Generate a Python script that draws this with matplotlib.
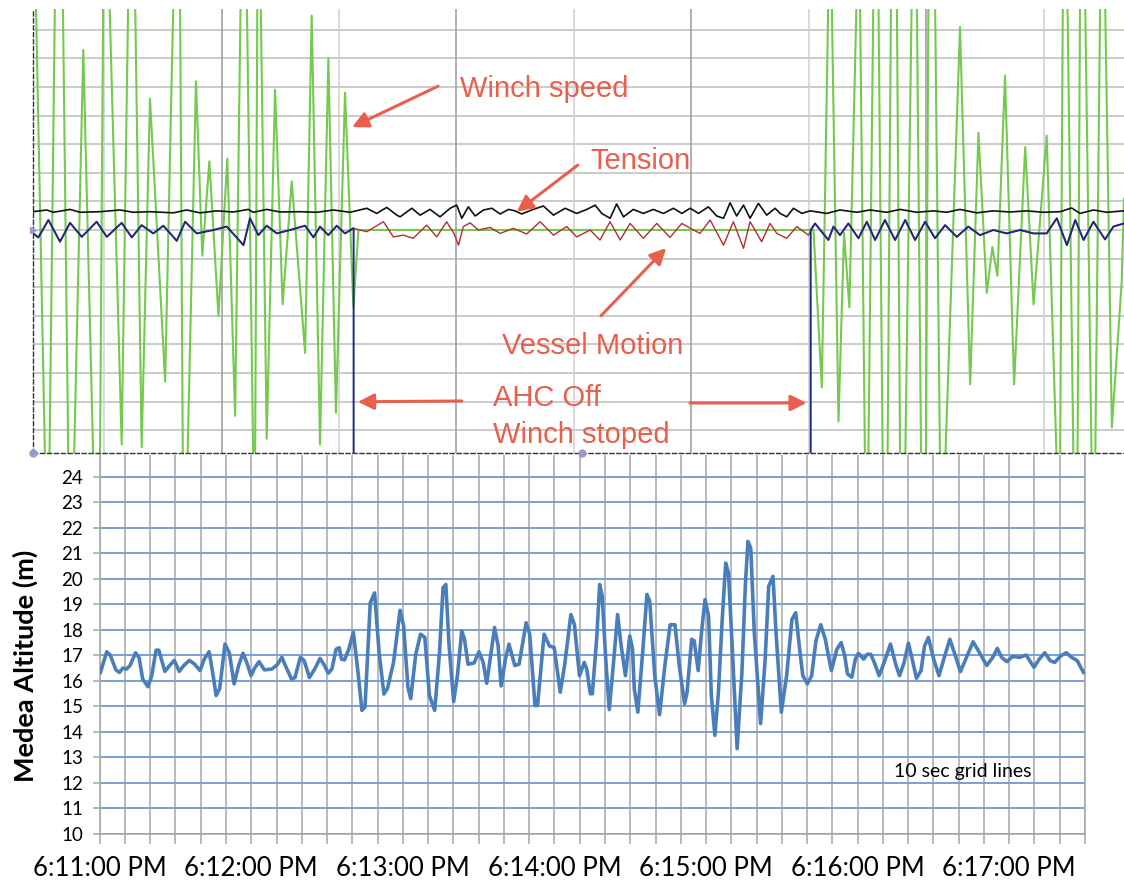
import numpy as np
import matplotlib.pyplot as plt

plt.rcParams['font.family'] = ['Lato', 'DejaVu Sans']

# ---- bottom chart: Medea altitude, seconds after 6:11:00 PM ----
alt_sec = [0.3, 2.8, 4.2, 6.4, 7.8, 9.2, 10.6, 12.0, 14.2, 15.6, 17.0, 19.1, 20.6, 22.3, 23.4,
           25.8, 27.7, 29.5, 31.5, 33.3, 35.5, 37.6, 39.7, 41.4, 43.3, 44.7, 46.1, 47.5, 49.6,
           51.3, 53.2, 55.0, 56.7, 58.2, 59.9, 61.3, 63.1, 65.2, 68.1, 70.2, 72.1, 73.8, 75.9,
           77.3, 79.4, 80.9, 83.0, 85.1, 87.2, 88.7, 90.5, 91.9, 93.6, 94.8, 95.7, 96.9, 98.6,
           100.4, 102.1, 103.8, 105.0, 107.1, 108.8, 110.6, 112.5, 113.9, 116.3, 118.9, 120.3,
           122.0, 123.1, 125.1, 127.0, 128.7, 130.5, 132.6, 134.5, 135.9, 137.0, 138.3, 140.1,
           141.6, 143.3, 144.4, 145.8, 148.2, 150.1, 151.8, 153.2, 154.9, 156.3, 157.7, 158.9,
           160.6, 162.0, 164.3, 166.0, 168.8, 170.2, 172.3, 173.3, 175.9, 178.0, 179.9, 182.3,
           184.0, 186.5, 187.9, 189.9, 191.8, 192.8, 194.2, 195.0, 196.7, 197.9, 198.9, 200.3,
           201.7, 203.5, 205.0, 206.4, 208.1, 209.8, 210.9, 211.6, 213.0, 214.9, 216.6, 217.7,
           219.7, 221.6, 223.7, 225.8, 227.7, 229.4, 231.5, 232.5, 234.3, 235.3, 236.9, 238.2,
           239.6, 241.0, 242.1, 243.5, 244.9, 246.4, 247.8, 248.9, 250.6, 252.3, 254.2, 255.6,
           256.6, 257.7, 259.1, 261.6, 263.4, 264.8, 266.5, 267.7, 269.8, 271.9, 274.0, 275.5,
           276.9, 278.3, 280.1, 281.8, 283.5, 285.4, 287.2, 289.6, 291.8, 293.5, 294.9, 296.0,
           297.7, 299.1, 300.3, 302.4, 303.8, 305.2, 306.6, 308.5, 310.5, 313.0, 315.2, 316.6,
           318.4, 320.1, 321.6, 323.3, 325.1, 326.5, 328.0, 330.1, 332.2, 334.1, 336.5, 338.3,
           340.7, 342.8, 345.7, 347.8, 351.1, 353.5, 355.3, 357.0, 359.1, 361.3, 364.1, 366.7,
           369.8, 371.9, 374.1, 376.2, 378.0, 380.4, 382.6, 384.7, 386.9, 389.4]
alt_m = [16.33, 17.14, 17.0, 16.43, 16.33, 16.5, 16.46, 16.6, 17.1, 16.9, 16.07, 15.77, 16.2, 17.2, 17.2,
         16.37, 16.6, 16.8, 16.37, 16.6, 16.8, 16.65, 16.4, 16.85, 17.14, 16.33, 15.42, 15.7, 17.44,
         17.1, 15.88, 16.6, 17.08, 16.72, 16.2, 16.5, 16.75, 16.43, 16.46, 16.62, 16.92, 16.53, 16.07,
         16.13, 16.92, 16.8, 16.13, 16.46, 16.88, 16.65, 16.3, 16.46, 17.24, 17.3, 16.85, 16.82, 17.24,
         17.9, 16.46, 14.84, 14.97, 19.06, 19.45, 17.1, 15.48, 15.7, 16.72, 18.77, 18.15,
         15.75, 15.3, 17.04, 17.83, 17.7, 15.42, 14.84, 17.1, 19.65, 19.78, 17.37, 15.19,
         16.2, 17.96, 17.63, 16.65, 16.7, 17.14, 16.72, 15.9, 17.1, 18.09, 17.37, 15.8,
         16.85, 17.44, 16.6, 16.65, 18.28, 17.83, 15.03, 15.03, 17.83, 17.37, 17.3, 15.55,
         16.6, 18.6, 18.2, 16.2, 16.72, 16.46, 15.49, 15.49, 17.63, 19.78, 19.32, 16.85,
         14.87, 16.85, 18.6, 17.37, 16.2, 17.76, 17.24, 15.68, 14.77, 17.1, 19.39, 19.13,
         16.2, 14.67, 16.6, 18.2, 18.2, 16.6, 15.1, 15.55, 17.63, 17.57, 16.4, 17.89,
         19.19, 18.54, 15.42, 13.86, 15.55, 18.41, 20.62, 20.23, 16.85, 13.34, 16.33, 19.84,
         21.47, 21.2, 17.89, 14.32, 16.85, 19.71, 20.1, 17.89, 14.77, 16.2, 18.41, 18.67,
         17.37, 16.2, 15.88, 16.2, 17.57, 18.2, 17.63, 16.4, 17.24, 17.5, 16.98, 16.27,
         16.14, 16.85, 17.08, 16.85, 17.04, 17.04, 16.72, 16.2, 16.72, 17.44, 16.6, 16.2,
         16.72, 17.48, 16.85, 16.1, 16.4, 17.37, 17.7, 16.85, 16.2, 16.85, 17.63, 17.1,
         16.36, 16.85, 17.53, 17.18, 16.6, 16.92, 17.27, 16.92, 16.75, 16.95, 16.92, 17.01,
         16.53, 16.85, 17.1, 16.79, 16.72, 16.98, 17.1, 16.92, 16.79, 16.33]
minute_labels = ['6:11:00 PM', '6:12:00 PM', '6:13:00 PM', '6:14:00 PM',
                 '6:15:00 PM', '6:16:00 PM', '6:17:00 PM']

# ---- top chart (winch log screenshot): same time base, values in grid divisions ----
winch_sec = [-26.4, -25.3, -21.6, -19.9, -17.7, -14.6, -12.4, -10.2, -6.5, -2.5, 0.1, 1.4, 3.8,
             8.7, 11.3, 14.0, 16.6, 19.9, 25.9, 29.2, 31.8, 32.9, 34.7, 38.1, 40.6, 43.4, 47.0,
             50.5, 53.6, 55.8, 58.2, 60.8, 61.5, 62.4, 63.7, 66.1, 69.4, 72.4, 76.0, 81.3, 83.9,
             87.2, 90.5, 93.5, 97.1, 100.4, 102.4,
             282.5, 285.8, 288.4, 289.7, 292.4, 294.6, 296.7, 299.6, 300.9, 302.9, 304.2, 306.2,
             308.2, 309.9, 311.8, 313.2, 315.5, 316.8, 318.8, 321.4, 323.4, 325.1, 327.0, 328.0,
             330.6, 332.6, 334.6, 340.5, 344.5, 347.8, 351.1, 353.3, 355.3, 358.3, 361.9, 366.3,
             369.6, 374.8, 378.8, 380.1, 381.2, 383.0, 385.4, 387.0, 388.0, 390.0, 392.6, 394.0,
             396.0, 397.9, 400.6, 404.5, 405.4]
winch_div = [8.2, 8.2, -8.2, -8.2, 8.2, 8.2, -8.2, -8.2, 6.3, -8.2, -8.2, 8.2, 8.2,
             -7.5, 8.2, 8.2, -7.6, 4.6, -5.3, 8.2, 8.2, -8.2, -8.2, 5.2, -0.9, 2.4, -3.0,
             2.5, -6.5, 8.2, 8.2, -8.2, -8.2, 8.2, 8.2, -7.3, 4.9, -2.6, 1.7, -4.3, 7.5,
             -7.5, 6.0, -6.4, 4.8, -2.7, 0.0,
             0.0, -5.5, 8.2, 8.2, -6.7, -0.1, -2.7, 8.2, 8.2, -8.2, -8.2, 8.2,
             8.2, -8.2, -8.2, 8.2, 8.2, -8.2, -8.2, 8.2, 8.2, -8.2, -8.2, 8.2,
             8.2, -8.2, -8.2, 7.1, -5.4, 3.4, -2.2, -0.6, -1.6, 5.4, -5.4, 2.9,
             -2.6, 3.3, -8.2, -8.2, 8.2, 8.2, -8.2, -8.2, 8.2, 8.2, -8.2, -8.2,
             8.2, 8.2, -6.9, -1.8, 1.1]

tension_sec = [-26.3, -21.0, -18.35, -11.75, -7.8, 0.1, 8.0, 13.3, 19.9, 29.2, 34.4, 39.7, 46.3,
               52.9, 58.8, 60.8, 66.1, 71.4, 79.3, 85.9, 92.5, 99.1, 105.7, 109.6, 113.6, 117.6,
               118.9, 123.5, 126.8, 130.7, 134.7, 138.7, 141.3, 143.3, 145.9, 148.6, 151.9, 155.2,
               158.5, 161.8, 164.4, 167.0, 171.6, 175.6, 179.6, 184.2, 188.8, 192.8, 196.1, 198.7,
               202.0, 204.6, 207.3, 211.2, 215.2, 219.1, 223.1, 227.1, 230.4, 233.7, 237.0, 240.9,
               244.2, 246.9, 249.5, 252.1, 254.8, 257.4, 260.7, 264.0, 267.3,
               269.3, 271.9, 274.6, 277.9, 281.2, 287.7, 293.0, 299.6, 304.9, 311.5, 316.8, 323.4,
               330.0, 335.2, 340.5, 347.1, 353.7, 360.3, 366.9, 373.5, 380.1, 384.7, 388.0, 393.3,
               398.6, 405.4]
tension_div = [0.64, 0.70, 0.62, 0.72, 0.62, 0.64, 0.70, 0.62, 0.64, 0.60, 0.70, 0.60, 0.67,
               0.63, 0.72, 0.62, 0.72, 0.63, 0.64, 0.62, 0.70, 0.62, 0.76, 0.58, 0.79, 0.52,
               0.46, 0.76, 0.52, 0.72, 0.46, 0.76, 0.87, 0.41, 0.81, 0.49, 0.70, 0.76,
               0.56, 0.72, 0.67, 0.56, 0.72, 0.84, 0.52, 0.76, 0.58, 0.72, 0.87, 0.58,
               0.41, 0.91, 0.46, 0.72, 0.58, 0.72, 0.58, 0.76, 0.58, 0.76, 0.58, 0.81,
               0.49, 0.41, 0.95, 0.49, 0.87, 0.41, 0.93, 0.52, 0.76,
               0.58, 0.46, 0.76, 0.58, 0.67, 0.58, 0.70, 0.62, 0.70, 0.62, 0.72, 0.62,
               0.67, 0.62, 0.72, 0.60, 0.67, 0.63, 0.67, 0.62, 0.64, 0.77, 0.58, 0.70,
               0.62, 0.67]

vessel_sec = [-26.3, -24.3, -20.3, -15.7, -11.75, -7.1, -1.2, 2.8, 8.7, 12.7, 16.6, 21.2, 25.2,
              30.5, 33.8, 38.4, 45.0, 50.3, 56.9, 59.5, 62.8, 66.1, 70.1, 75.3, 81.3, 84.6, 87.2,
              90.5, 93.8, 97.1, 100.4, 105.7, 112.3, 116.2,
              120.2, 124.1, 129.4, 133.4, 137.3, 140.2, 142.0, 143.9, 146.6, 149.9, 154.5, 158.5,
              163.7, 169.0, 174.3, 179.6, 184.8, 188.8, 194.1, 198.0, 202.0, 206.0, 209.9, 215.2,
              220.5, 225.7, 230.4, 235.0, 237.6, 241.6, 246.9, 250.8, 254.8, 257.4, 262.0, 265.3,
              268.0, 271.9, 275.9, 280.5, 283.1, 288.4, 290.4, 293.0, 296.3, 300.3, 303.6, 306.9,
              310.8, 314.8, 318.8, 322.7, 326.7, 330.6, 334.6, 339.2, 343.8, 348.4, 353.7, 359.0,
              364.3, 369.6, 374.8, 378.8, 382.8, 386.1, 389.4, 393.3, 397.9, 401.2, 405.4]
vessel_div = [-0.12, -0.26, 0.35, -0.41, 0.25, -0.24, 0.29, -0.24, 0.25, -0.26, 0.17, -0.12, 0.15,
              -0.38, 0.29, -0.12, 0.0, 0.12, -0.53, 0.41, -0.18, 0.15, -0.12, 0.0, 0.15, -0.26, 0.12,
              -0.18, 0.15, -0.12, 0.06, -0.06, 0.29, -0.24,
              -0.18, -0.29, 0.17, -0.24, 0.29, -0.12, -0.53, 0.12, 0.25, 0.0, 0.09, -0.12,
              0.06, -0.14, 0.29, -0.18, 0.12, -0.24, 0.0, -0.35, 0.29, -0.35, 0.23, -0.29,
              0.23, -0.26, 0.23, 0.0, -0.12, 0.35, -0.53, 0.29, -0.64, 0.29, -0.41, 0.23,
              -0.12, -0.29, 0.12, -0.18, 0.23, -0.35, 0.12, -0.18, 0.23, -0.29, 0.29, -0.35,
              0.35, -0.35, 0.35, -0.35, 0.29, -0.29, 0.17, -0.24, 0.12, -0.18, 0.0, -0.12,
              0.0, -0.12, -0.12, 0.41, -0.53, 0.35, -0.35, 0.29, -0.33, 0.12, 0.23]

ahc_off_sec = 100.5
ahc_on_sec = 281.4

W, H = 1124, 881
fig = plt.figure(figsize=(W / 100, H / 100), dpi=100)


def px_axes(x0, y0, x1, y1):
    return fig.add_axes([x0 / W, 1 - y1 / H, (x1 - x0) / W, (y1 - y0) / H])


# ================= bottom chart =================
ax = px_axes(99.7, 455, 1085, 833.7)
ax.plot(alt_sec, alt_m, color='#4a7ebb', lw=2.6, solid_joinstyle='round', zorder=3)
ax.set_xlim(0, 390)
ax.set_ylim(10, 24.86)
ax.set_yticks(range(10, 25))
ax.set_xticks(np.arange(0, 361, 60))
ax.set_xticklabels(minute_labels)
ax.set_xticks(np.arange(0, 391, 10), minor=True)
ax.grid(axis='x', which='both', color='#a6a6a6', lw=1.1)
ax.grid(axis='y', color='#7a9fd4', lw=1.4)
ax.tick_params(axis='x', which='both', direction='out', length=7, width=1.1,
               color='#a6a6a6', labelsize=18.5, pad=9)
ax.tick_params(axis='y', direction='out', length=5, width=1.1, color='#a6a6a6',
               labelsize=13.5, pad=7)
for s in ('left', 'right', 'bottom'):
    ax.spines[s].set_color('#a6a6a6')
    ax.spines[s].set_linewidth(1.1)
ax.spines['top'].set_visible(False)
ax.set_ylabel('Medea Altitude (m)', fontsize=19.5, fontweight='bold')
ax.yaxis.set_label_coords(-0.0626, 0.443)
ax.text(314.5, 12.24, '10 sec grid lines', fontsize=14, color='black')

# ================= top chart =================
at = px_axes(33, 9, 1124, 453)
at.set_xlim(-26.4, 405.4)
at.set_ylim(-7.8, 7.73)
at.set_xticks([])
at.set_yticks([])
for s in ('top', 'right'):
    at.spines[s].set_visible(False)
for s in ('left', 'bottom'):
    at.spines[s].set_linestyle((0, (3, 2)))
    at.spines[s].set_color('#333333')
    at.spines[s].set_linewidth(1.0)

for v in range(-7, 8):
    at.axhline(v, color='#bdbdbd', lw=1.1, zorder=0)
for i, t in enumerate(np.arange(1.8, 406, 46.47)):
    at.axvline(t, color='#9a9a9a' if i % 2 else '#cfcfcf', lw=1.1, zorder=0)

at.plot(winch_sec, winch_div, color='#74c94f', lw=1.5, zorder=2)
at.plot(tension_sec, tension_div, color='#111111', lw=1.2, zorder=3)
at.plot(vessel_sec, vessel_div, color='#b03030', lw=1.0, zorder=4)

vs = np.array(vessel_sec)
vd = np.array(vessel_div)
on1 = vs <= ahc_off_sec
on2 = vs >= ahc_on_sec
at.plot(np.r_[vs[on1], ahc_off_sec, ahc_off_sec], np.r_[vd[on1], vd[on1][-1], -9],
        color='#1c2a80', lw=1.4, zorder=5)
at.plot(np.r_[ahc_on_sec, ahc_on_sec, vs[on2]], np.r_[-9, 0.0, vd[on2]],
        color='#1c2a80', lw=1.4, zorder=5)

dot = dict(color='#9a9ad0', ms=5, clip_on=False, zorder=6)
at.plot([-26.4], [0], marker='>', **dot)
at.plot([-26.4, 190.8], [-7.8, -7.8], marker='o', ls='none', **dot)

red = '#e8604c'
tfont = dict(color=red, fontsize=21, family=['Liberation Sans', 'DejaVu Sans'])
arrow = dict(arrowstyle='-|>', color=red, lw=2.2, mutation_scale=24, shrinkA=0, shrinkB=0)
at.text(142.6, 4.66, 'Winch speed', **tfont)
at.text(194.1, 2.12, 'Tension', **tfont)
at.text(159.1, -4.34, 'Vessel Motion', **tfont)
at.text(155.7, -6.15, 'AHC Off', **tfont)
at.text(155.7, -7.46, 'Winch stoped', **tfont)
at.annotate('', xy=(99.9, 3.6), xytext=(133.9, 5.03), arrowprops=arrow)
at.annotate('', xy=(165.1, 0.64), xytext=(189.2, 2.27), arrowprops=arrow)
at.annotate('', xy=(224.2, -0.63), xytext=(198.4, -3.0), arrowprops=arrow)
at.annotate('', xy=(102.2, -6.01), xytext=(143.3, -5.98), arrowprops=arrow)
at.annotate('', xy=(279.8, -6.05), xytext=(233.6, -6.05), arrowprops=arrow)

fig.savefig('out.png', dpi=100, facecolor='white')
